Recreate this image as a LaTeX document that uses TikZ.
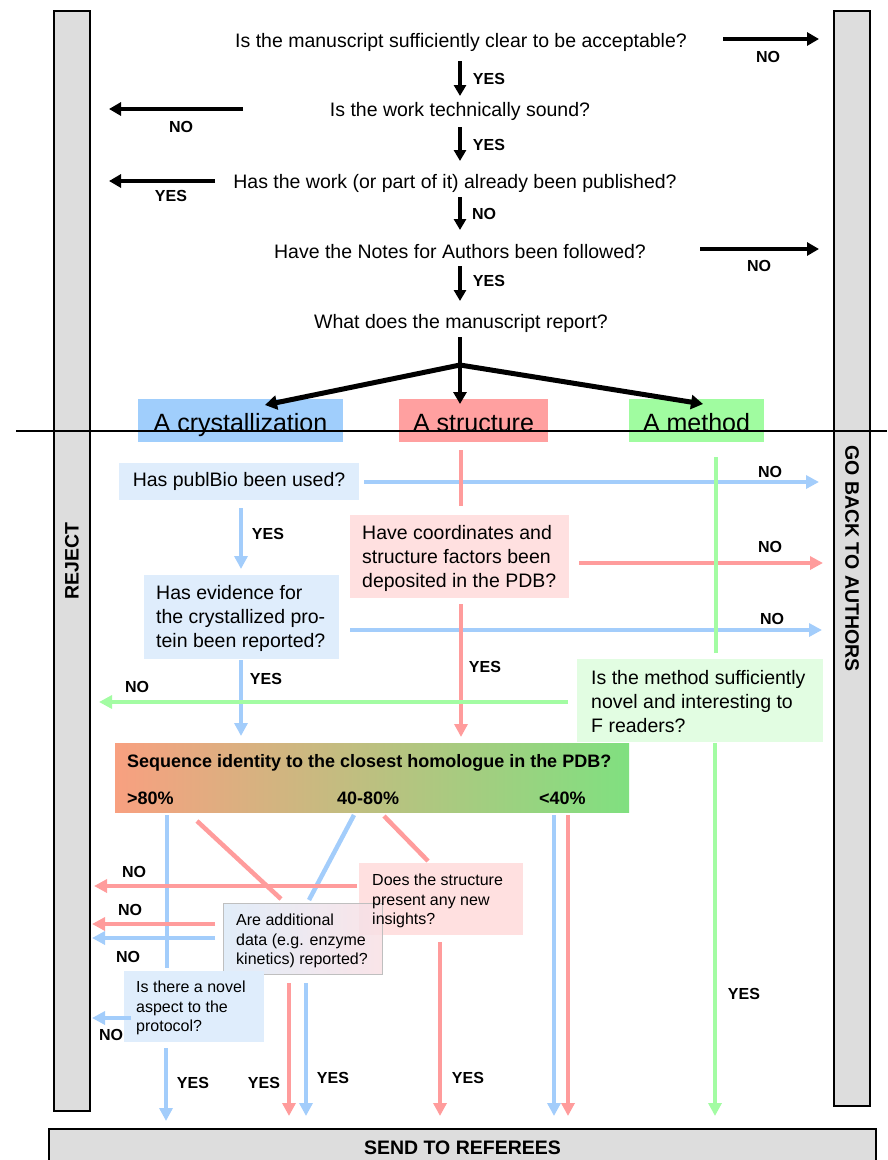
\documentclass[tikz,border=0pt]{standalone}
\usepackage{fontspec}
\setmainfont{Liberation Sans}
\usetikzlibrary{arrows.meta}
\definecolor{lnb}{HTML}{A3CDFB}
\definecolor{lnp}{HTML}{FF9C9C}
\definecolor{lng}{HTML}{A3FCA3}
\definecolor{bxb}{HTML}{DFEDFC}
\definecolor{bxp}{HTML}{FFE0E0}
\definecolor{bxg}{HTML}{E2FDE2}
\definecolor{ctb}{HTML}{A0CEFC}
\definecolor{ctp}{HTML}{FFA0A0}
\definecolor{ctg}{HTML}{A0FCA0}
\definecolor{barg}{HTML}{DDDDDD}
\definecolor{gsal}{HTML}{F8A080}
\definecolor{gtan}{HTML}{D6B682}
\definecolor{ggrn}{HTML}{80E080}
\definecolor{adb}{HTML}{DCEAF8}
\definecolor{adp}{HTML}{F9E0E4}
\begin{document}
\begin{tikzpicture}[x=1pt,y=-1pt,
  txt/.style={font=\fontsize{19.5}{24}\selectfont, inner sep=0pt},
  mtxt/.style={txt, align=left, anchor=west},
  stxt/.style={font=\fontsize{16}{19.7}\selectfont, inner sep=0pt, align=left, anchor=west},
  lab/.style={font=\bfseries\fontsize{16}{19}\selectfont, inner sep=0pt},
  bar/.style={draw=black, line width=1.8pt, fill=barg, inner sep=0pt, font=\bfseries\fontsize{19.5}{22}\selectfont},
  blk/.style={line width=4pt, -{Triangle[length=11pt,width=12pt]}},
  blkb/.style={line width=4.5pt, -{Triangle[length=12pt,width=13pt]}},
  carr/.style={line width=4.5pt, -{Triangle[length=13pt,width=13pt]}},
  cln/.style={line width=4.5pt},
  qbox/.style={inner sep=0pt, draw=none},
  cat/.style={inner sep=0pt, minimum height=43pt},
  catlab/.style={inner sep=0pt, anchor=base, font=\fontsize{25}{30}\selectfont},
  seqlab/.style={inner sep=0pt, anchor=base west, font=\bfseries\fontsize{18}{22}\selectfont}
]
\useasboundingbox (0,0) rectangle (887,1160);

% side bars and bottom box
\node[bar, rotate=90, minimum width=1100pt, minimum height=36pt] (reject) at (72,561) {REJECT};
\node[bar, rotate=-90, minimum width=1095pt, minimum height=36pt] (goback) at (852,558.5) {GO BACK TO AUTHORS};
\node[bar, minimum width=827pt, minimum height=38pt] (send) at (462.5,1148) {SEND TO REFEREES};

% top questions
\node[txt] (q1) at (461,42) {Is the manuscript sufficiently clear to be acceptable?};
\node[txt] (q2) at (460,111) {Is the work technically sound?};
\node[txt] (q3) at (455,183) {Has the work (or part of it) already been published?};
\node[txt] (q4) at (460,252) {Have the Notes for Authors been followed?};
\node[txt] (q5) at (461,323) {What does the manuscript report?};

\draw[blk] (460,61) -- (460,96);
\node[lab] (y1) at (489,79) {YES};
\draw[blk] (460,127) -- (460,161);
\node[lab] (y2) at (489,145) {YES};
\draw[blk] (460,197) -- (460,230);
\node[lab] (n3) at (484,214) {NO};
\draw[blk] (460,266) -- (460,301);
\node[lab] (y4) at (489,281) {YES};

\draw[blkb] (723,39) -- (819,39);
\node[lab] (n1) at (768,57) {NO};
\draw[blkb] (243,109) -- (109,109);
\node[lab] (n2) at (181,127) {NO};
\draw[blkb] (215,181) -- (109,181);
\node[lab] (y3) at (171,196) {YES};
\draw[blkb] (700,249) -- (819,249);
\node[lab] (n4) at (759,266) {NO};

% category boxes
\node[cat, fill=ctb, minimum width=205pt] (crys) at (240.5,420.5) {};
\node[catlab] (crysl) at (240.5,431) {A crystallization};
\node[cat, fill=ctp, minimum width=149pt] (struc) at (473.5,420.5) {};
\node[catlab] (strucl) at (473.5,431) {A structure};
\node[cat, fill=ctg, minimum width=135pt] (meth) at (696.5,420.5) {};
\node[catlab] (methl) at (696.5,431) {A method};

% branching
\coordinate (top) at (460,337);
\coordinate (br) at (460,365);
\draw[line width=4.5pt] (top) -- (br);
\draw[line width=5pt, -{Triangle[length=12pt,width=14pt]}] (br) -- (265,405);
\draw[blkb] (br) -- (460,404);
\draw[line width=5pt, -{Triangle[length=12pt,width=14pt]}] (br) -- (703,404);

% question boxes
\node[qbox, fill=bxb, minimum width=240pt, minimum height=37pt, txt] (pub) at (239,481.5) {Has publBio been used?};
\node[qbox, fill=bxp, minimum width=219pt, minimum height=83pt] (cf) at (459.5,556.5) {};
\node[mtxt] (cft) at (362,558) {Have coordinates and\\structure factors been\\deposited in the PDB?};
\node[qbox, fill=bxb, minimum width=195pt, minimum height=84pt] (ev) at (241.5,617) {};
\node[mtxt] (evt) at (156,618) {Has evidence for\\the crystallized pro-\\tein been reported?};
\node[qbox, fill=bxg, minimum width=246pt, minimum height=83pt] (me) at (700,700.5) {};
\node[mtxt] (met) at (591,702) {Is the method sufficiently\\novel and interesting to\\F readers?};

% crystallization / structure connectors
\draw[carr, lnb] (364,482) -- (819,482);
\node[lab] (n5) at (770,472) {NO};
\draw[cln, lnp] (461,450) -- (461,506);
\draw[carr, lnb] (241,508) -- (241,569);
\node[lab] (y5) at (268,534) {YES};
\draw[carr, lnp] (579,563) -- (823,563);
\node[lab] (n6) at (770,547) {NO};
\draw[carr, lnb] (350,630) -- (822,630);
\node[lab] (n7) at (772,619) {NO};
\draw[cln, lng] (716,457) -- (716,653);
\draw[carr, lnb] (241,660) -- (241,736);
\node[lab] (y6) at (266,679) {YES};
\draw[carr, lnp] (461,604) -- (461,737);
\node[lab] (y7) at (485,667) {YES};
\draw[carr, lng] (568,702) -- (99,702);
\node[lab] (n8) at (137,687) {NO};
\draw[carr, lng] (715,743) -- (715,1116);
\node[lab] (y8) at (744,994) {YES};

% sequence identity box
\node[inner sep=0pt, minimum width=514pt, minimum height=69pt, left color=gsal, middle color=gtan, right color=ggrn] (seq) at (372,777.5) {};
\node[seqlab] (seqt) at (127,767) {Sequence identity to the closest homologue in the PDB?};
\node[seqlab] (s80) at (127,804) {>80\%};
\node[seqlab] (s4080) at (337,804) {40-80\%};
\node[seqlab] (s40) at (539,804) {<40\%};

% lower boxes
\node[qbox, fill=bxp, minimum width=164pt, minimum height=72pt] (ds) at (441,899) {};
\node[qbox, draw=black!25, line width=0.8pt, left color=adb, right color=adp, fill opacity=0.85, minimum width=159pt, minimum height=71pt] (ad) at (302.5,938.5) {};
\node[stxt] (dst) at (372,901) {Does the structure\\present any new\\insights?};
\node[stxt] (adt) at (236,941) {Are additional\\data (e.g. enzyme\\kinetics) reported?};
\node[qbox, fill=bxb, minimum width=140pt, minimum height=71pt] (nv) at (194,1006.5) {};
\node[stxt] (nvt) at (136,1008) {Is there a novel\\aspect to the\\protocol?};

% lower connectors
\draw[cln, lnb] (167,815) -- (167,968);
\draw[cln, lnp] (197,821) -- (281,899);
\draw[cln, lnb] (354,815) -- (309,900);
\draw[cln, lnp] (384,816) -- (428,861);
\draw[carr, lnb] (554,815) -- (554,1116);
\draw[carr, lnp] (568,815) -- (568,1116);
\draw[carr, lnp] (357,886) -- (94,886);
\node[lab] (n9) at (134,872) {NO};
\draw[carr, lnp] (215,924) -- (92,924);
\node[lab] (n10) at (130,910) {NO};
\draw[carr, lnb] (215,938) -- (92,938);
\node[lab] (n11) at (128,957) {NO};
\draw[carr, lnb] (131,1018) -- (92,1018);
\node[lab] (n12) at (111,1035) {NO};
\draw[carr, lnb] (166,1048) -- (166,1121);
\node[lab] (y9) at (193,1083) {YES};
\draw[carr, lnp] (289,983) -- (289,1116);
\node[lab] (y10) at (264,1083) {YES};
\draw[carr, lnb] (306,983) -- (306,1116);
\node[lab] (y11) at (333,1078) {YES};
\draw[carr, lnp] (440,942) -- (440,1116);
\node[lab] (y12) at (468,1078) {YES};

% dividing line
\draw[line width=1.6pt] (16,431) -- (887,431);
\end{tikzpicture}
\end{document}
